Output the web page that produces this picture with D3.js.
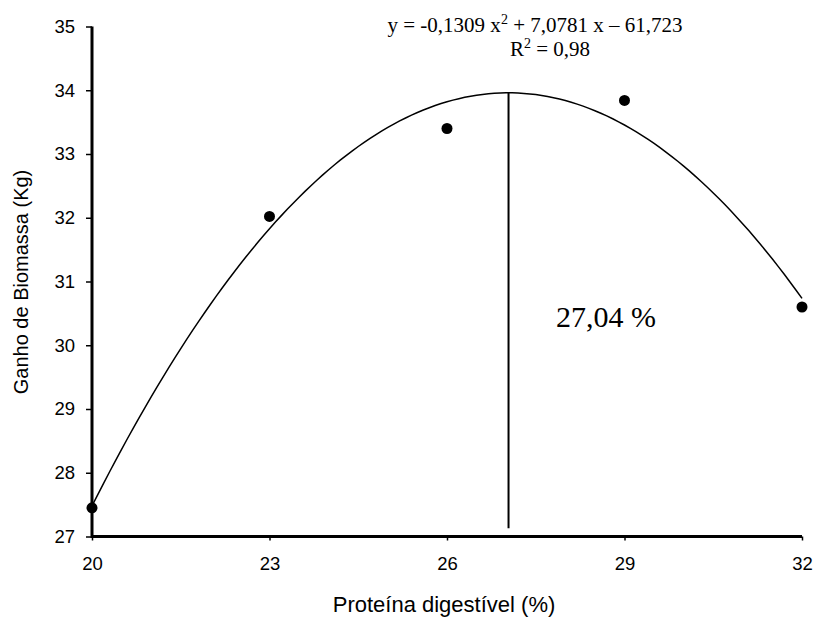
<!DOCTYPE html>
<html><head><meta charset="utf-8">
<script src="https://cdn.jsdelivr.net/npm/d3@7"></script>
<style>body{margin:0;background:#fff;} svg{display:block;}</style>
</head><body>
<script>
const protein = [20, 23, 26, 29, 32];
const biomass = [27.45, 32.02, 33.4, 33.84, 30.6];
const xTicks = [20, 23, 26, 29, 32];
const yTicks = [27, 28, 29, 30, 31, 32, 33, 34, 35];
const coef = [-0.1309, 7.0781, -61.723]; // a x^2 + b x + c
const optimum = 27.04;

const W = 816, H = 621;
const svg = d3.select("body").append("svg").attr("width", W).attr("height", H);
const x = d3.scaleLinear().domain([20, 32]).range([92, 802]);
const y = d3.scaleLinear().domain([27, 35]).range([536.5, 26.5]);
const f = v => coef[0]*v*v + coef[1]*v + coef[2];

// axes
const yAxis = d3.axisLeft(y).tickValues(yTicks).tickSize(6).tickPadding(11).tickFormat(d3.format("d"));
const gy = svg.append("g").attr("transform", "translate(92,0)").call(yAxis);
const xAxis = d3.axisBottom(x).tickValues(xTicks).tickSize(4).tickPadding(16).tickFormat(d3.format("d"));
const gx = svg.append("g").attr("transform", "translate(0,536.5)").call(xAxis);
[gx, gy].forEach(g => {
  g.select(".domain").remove();
  g.selectAll(".tick line").attr("stroke", "#000").attr("stroke-width", 1.5);
  g.selectAll(".tick text").attr("fill", "#000").attr("font-family", "Liberation Sans, Arial, sans-serif").attr("font-size", 18.5);
});
svg.append("line").attr("x1", 92).attr("x2", 92).attr("y1", y(35)).attr("y2", y(27)+1.5).attr("stroke", "#000").attr("stroke-width", 3);
svg.append("line").attr("x1", 92).attr("x2", x(32)).attr("y1", y(27)).attr("y2", y(27)).attr("stroke", "#000").attr("stroke-width", 3);

// fitted curve
const curvePts = d3.range(0, 121).map(i => 20 + i*0.1);
svg.append("path").datum(curvePts)
  .attr("d", d3.line().x(d => x(d)).y(d => y(f(d))))
  .attr("fill", "none").attr("stroke", "#000").attr("stroke-width", 1.5);

// optimum line
svg.append("line").attr("x1", x(optimum)).attr("x2", x(optimum))
  .attr("y1", y(f(optimum))).attr("y2", y(27.13))
  .attr("stroke", "#000").attr("stroke-width", 2);

// points
svg.selectAll("circle.pt").data(protein).enter().append("circle")
  .attr("class", "pt").attr("cx", d => x(d)).attr("cy", (d, i) => y(biomass[i])).attr("r", 5.5).attr("fill", "#000");

// texts
const serif = "Liberation Serif, Times New Roman, serif";
const eq = svg.append("text").attr("x", 535).attr("y", 32).attr("text-anchor", "middle")
  .attr("font-family", serif).attr("font-size", 21).attr("fill", "#000");
eq.append("tspan").text("y = -0,1309 x");
eq.append("tspan").text("2").attr("font-size", 14).attr("dy", -8);
eq.append("tspan").text(" + 7,0781 x \u2013 61,723").attr("dy", 8);
const r2 = svg.append("text").attr("x", 550).attr("y", 56).attr("text-anchor", "middle")
  .attr("font-family", serif).attr("font-size", 21).attr("fill", "#000");
r2.append("tspan").text("R");
r2.append("tspan").text("2").attr("font-size", 14).attr("dy", -8);
r2.append("tspan").text(" = 0,98").attr("dy", 8);

svg.append("text").attr("x", 606).attr("y", 327).attr("text-anchor", "middle")
  .attr("font-family", serif).attr("font-size", 30).attr("fill", "#000").text("27,04 %");

svg.append("text").attr("x", 444).attr("y", 612).attr("text-anchor", "middle")
  .attr("font-family", "Liberation Sans, Arial, sans-serif").attr("font-size", 22).text("Proteína digestível (%)");
svg.append("text").attr("transform", "translate(28,282) rotate(-90)").attr("text-anchor", "middle")
  .attr("font-family", "Liberation Sans, Arial, sans-serif").attr("font-size", 20).text("Ganho de Biomassa (Kg)");
</script>
</body></html>
